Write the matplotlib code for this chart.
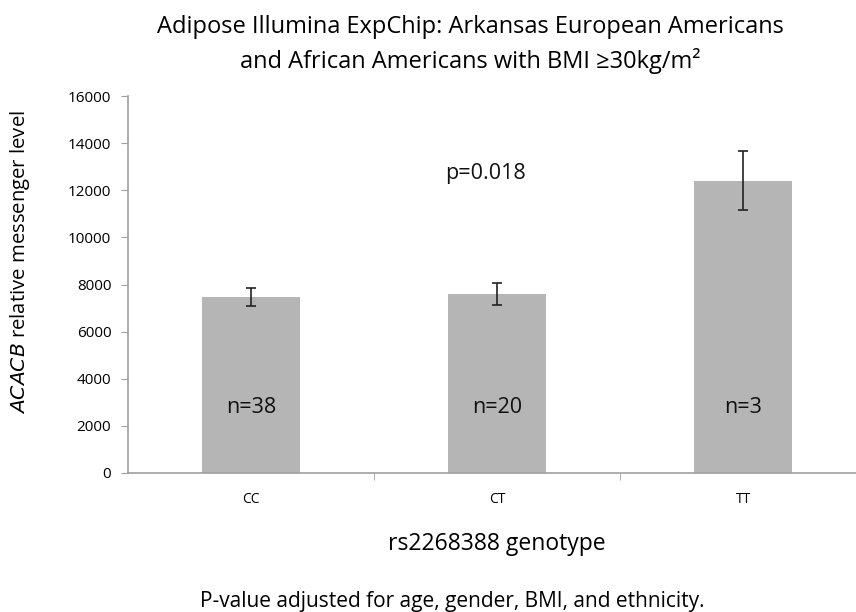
import matplotlib.pyplot as plt
import numpy as np

## values
genotypes = ["CC", "CT", "TT"]
means = [7470, 7600, 12410]
errs = [365, 460, 1260]
n_labels = ["n=38", "n=20", "n=3"]
yticks = [0, 2000, 4000, 6000, 8000, 10000, 12000, 14000, 16000]

plt.rcParams['font.family'] = ['Open Sans', 'DejaVu Sans']

W, H = 856, 612
fig = plt.figure(figsize=(W/100, H/100), dpi=100)
ax = fig.add_axes([128/W, 1-473/H, 738/W, 377/H])

x = np.arange(len(genotypes))
ax.bar(x, means, width=0.4, color="#b5b5b5", zorder=2)
ax.errorbar(x, means, yerr=errs, fmt="none", ecolor="#222222",
            elinewidth=1.2, capsize=3.5, capthick=1.2, zorder=3)

for xi, lab in zip(x, n_labels):
    ax.text(xi, 2800, lab, ha="center", va="center", fontsize=15.5, color="#111111")
ax.text(0.955, 12730, "p=0.018", ha="center", va="center", fontsize=15.5, color="#111111")

ax.set_xlim(-0.5, 2.5)
ax.set_ylim(0, 16000)
ax.set_yticks(yticks)
ax.tick_params(axis="y", labelsize=11, length=5, color="#a0a0a0", pad=7)

# tick labels at centres, tick marks between categories
ax.set_xticks(x)
ax.set_xticklabels(genotypes, fontsize=10)
ax.tick_params(axis="x", length=0, pad=14)
ax.set_xticks([0.5, 1.5], minor=True)
ax.tick_params(axis="x", which="minor", length=5, color="#a0a0a0")

for s in ["top", "right"]:
    ax.spines[s].set_visible(False)
for s in ["left", "bottom"]:
    ax.spines[s].set_color("#a0a0a0")
    ax.spines[s].set_linewidth(1.2)

ax.set_ylabel("$\\it{ACACB}$ relative messenger level", fontsize=14.6)
ax.yaxis.set_label_coords(-0.130, 0.56)
ax.set_xlabel("rs2268388 genotype", fontsize=16.5)
ax.xaxis.label.set_va("baseline")
ax.xaxis.set_label_coords(0.5, (473-550)/377)

fig.text(470/W, 1-33/H, "Adipose Illumina ExpChip: Arkansas European Americans",
         ha="center", va="baseline", fontsize=17)
fig.text(470/W, 1-68/H, "and African Americans with BMI \u226530kg/m\u00b2",
         ha="center", va="baseline", fontsize=17)
fig.text(452/W, 1-607/H, "P-value adjusted for age, gender, BMI, and ethnicity.",
         ha="center", va="baseline", fontsize=15)

fig.savefig("out.png", dpi=100)
